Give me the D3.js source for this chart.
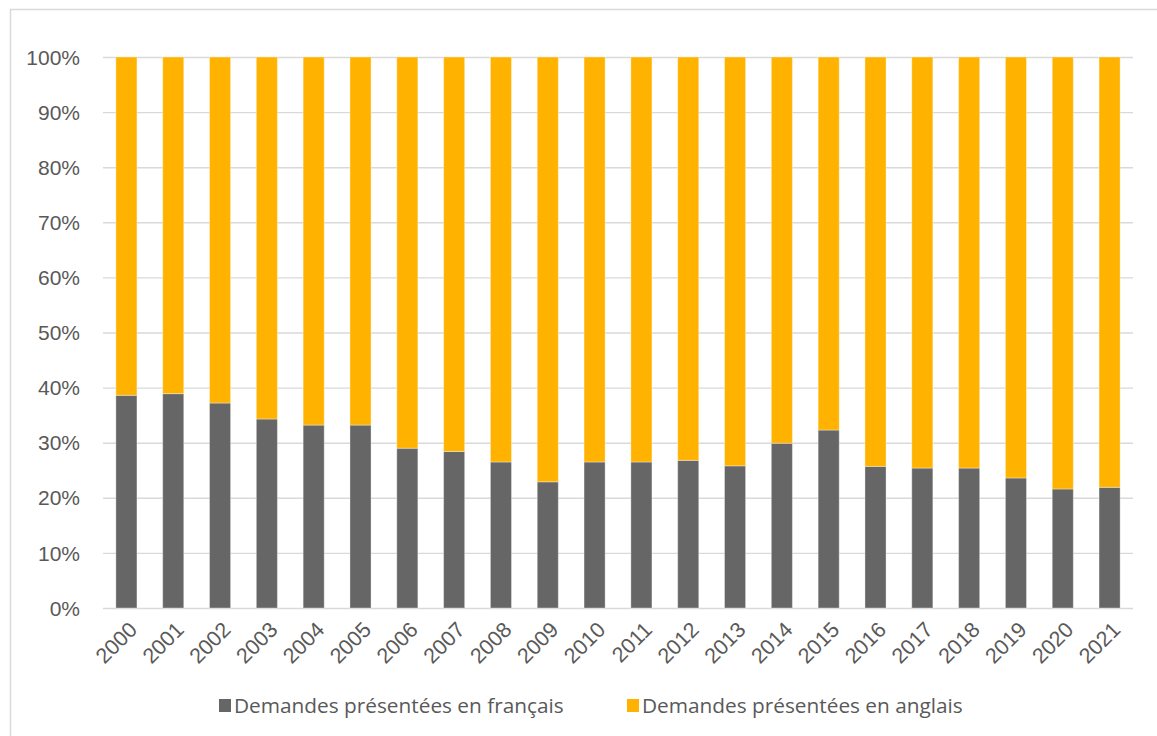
<!DOCTYPE html>
<html>
<head>
<meta charset="utf-8">
<script src="https://cdn.jsdelivr.net/npm/d3@7"></script>
<style>
  html, body { margin: 0; padding: 0; background: #ffffff; }
  svg { display: block; font-family: "Open Sans", "Liberation Sans", sans-serif; }
</style>
</head>
<body>
<svg id="chart" width="1157" height="736"></svg>
<script>
// Share of requests by language, per year (percent)
const years = ["2000","2001","2002","2003","2004","2005","2006","2007","2008","2009","2010",
               "2011","2012","2013","2014","2015","2016","2017","2018","2019","2020","2021"];
const french = [38.6, 38.9, 37.2, 34.3, 33.2, 33.2, 29.0, 28.4, 26.5, 22.9, 26.5,
                26.5, 26.8, 25.8, 29.9, 32.3, 25.7, 25.4, 25.4, 23.6, 21.6, 21.9];
const english = french.map(v => 100 - v);
const seriesNames = ["Demandes présentées en français", "Demandes présentées en anglais"];
const seriesColors = ["#666666", "#FFB300"];
const yTicks = [0, 10, 20, 30, 40, 50, 60, 70, 80, 90, 100];

const svg = d3.select("#chart");
const margin = { left: 103, right: 24, top: 57, bottom: 128 };
const W = 1157, H = 736;

// outer chart frame
svg.append("rect")
  .attr("x", 10.5).attr("y", 9.5)
  .attr("width", 1160).attr("height", 740)
  .attr("fill", "none").attr("stroke", "#d9d9d9").attr("stroke-width", 1.5);

const x = d3.scaleBand()
  .domain(years)
  .range([margin.left, W - margin.right])
  .paddingInner(0.55).paddingOuter(0.275);

const y = d3.scaleLinear()
  .domain([0, 100])
  .range([H - margin.bottom, margin.top]);

// horizontal gridlines + percent labels
const yAxis = d3.axisLeft(y)
  .tickValues(yTicks)
  .tickSize(-(W - margin.right - margin.left))
  .tickPadding(23)
  .tickFormat(d => d + "%");

const gy = svg.append("g")
  .attr("transform", `translate(${margin.left},0)`)
  .call(yAxis);
gy.select(".domain").remove();
gy.selectAll(".tick line").attr("stroke", "#d9d9d9").attr("stroke-width", 1.4);
gy.selectAll(".tick text")
  .attr("fill", "#595959")
  .style("font-size", "21px")
  .attr("dy", "0.34em");

// stacked bars
const rows = years.map((yr, i) => ({ year: yr, fr: french[i], en: english[i] }));
const stack = d3.stack().keys(["fr", "en"]);
const layers = stack(rows);

svg.append("g").selectAll("g")
  .data(layers)
  .join("g")
  .attr("fill", (d, i) => seriesColors[i])
  .selectAll("rect")
  .data(d => d)
  .join("rect")
  .attr("x", d => x(d.data.year))
  .attr("width", x.bandwidth())
  .attr("y", d => y(d[1]))
  .attr("height", d => y(d[0]) - y(d[1]))
  .attr("stroke", "#ffffff")
  .attr("stroke-opacity", 0.35)
  .attr("stroke-width", 1);

// year labels, rotated
const xAxis = d3.axisBottom(x).tickSize(0).tickPadding(0);
const gx = svg.append("g")
  .attr("transform", `translate(0,${H - margin.bottom})`)
  .call(xAxis);
gx.select(".domain").remove();
gx.selectAll(".tick text")
  .attr("fill", "#595959")
  .style("font-size", "21.5px")
  .attr("text-anchor", "end")
  .attr("dy", "0")
  .attr("transform", "translate(12,23) rotate(-45)");

// legend
const legend = svg.append("g");
const legendX = [219, 627];
seriesNames.forEach((name, i) => {
  const g = legend.append("g").attr("transform", `translate(${legendX[i]},699)`);
  g.append("rect").attr("width", 12).attr("height", 13).attr("fill", seriesColors[i]);
  g.append("text")
    .attr("x", 15).attr("y", 14)
    .attr("fill", "#595959")
    .style("font-size", "20.8px")
    .text(name);
});
</script>
</body>
</html>
